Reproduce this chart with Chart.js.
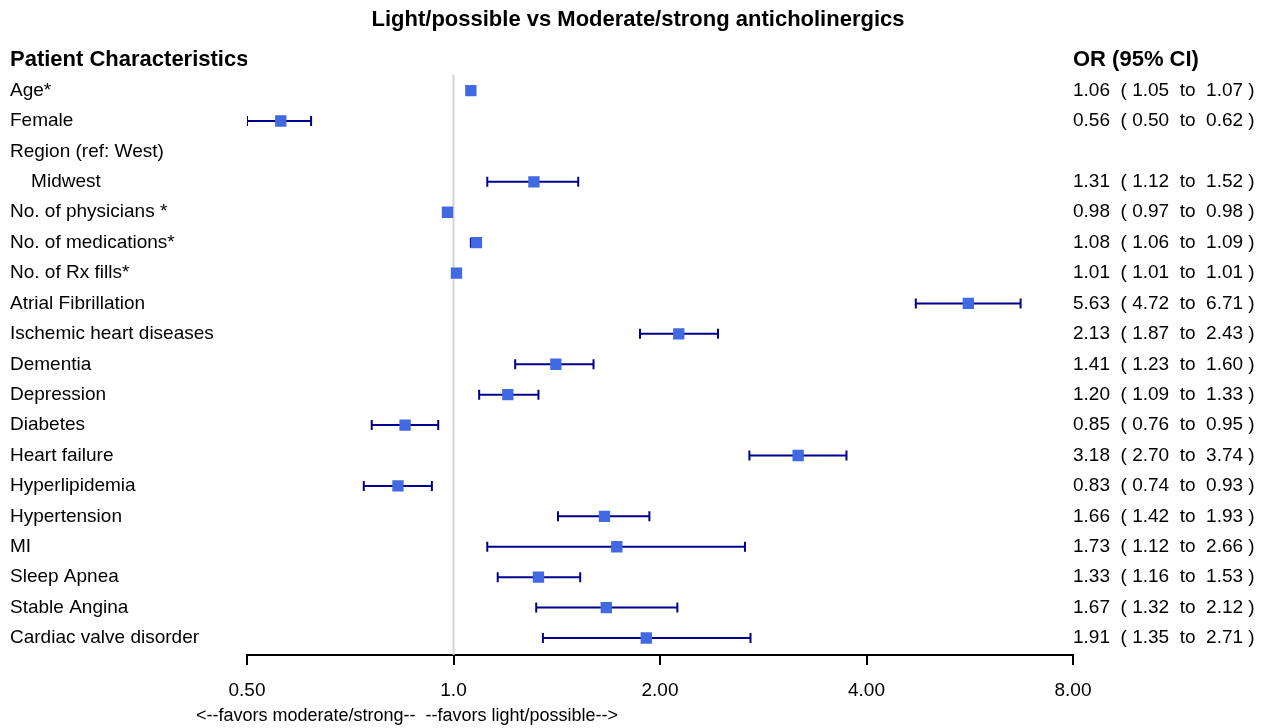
<!DOCTYPE html>
<html>
<head>
<meta charset="utf-8">
<script src="https://cdn.jsdelivr.net/npm/chart.js@4/dist/chart.umd.min.js"></script>
<style>
  body { margin: 0; background: #fff; }
  #wrap { width: 1266px; height: 728px; }
</style>
</head>
<body>
<div id="wrap"><canvas id="myChart"></canvas></div>
<script>
// rows, top to bottom
var labels = ["Age*", "Female", "Region (ref: West)", "    Midwest", "No. of physicians *",
    "No. of medications*", "No. of Rx fills*", "Atrial Fibrillation", "Ischemic heart diseases",
    "Dementia", "Depression", "Diabetes", "Heart failure", "Hyperlipidemia", "Hypertension",
    "MI", "Sleep Apnea", "Stable Angina", "Cardiac valve disorder"
];
var oddsRatio = [1.06, 0.56, null, 1.31, 0.98, 1.08, 1.01, 5.63, 2.13, 1.41, 1.20, 0.85, 3.18, 0.83, 1.66, 1.73, 1.33, 1.67, 1.91];
var ciLow = [1.05, 0.50, null, 1.12, 0.97, 1.06, 1.01, 4.72, 1.87, 1.23, 1.09, 0.76, 2.70, 0.74, 1.42, 1.12, 1.16, 1.32, 1.35];
var ciHigh = [1.07, 0.62, null, 1.52, 0.98, 1.09, 1.01, 6.71, 2.43, 1.60, 1.33, 0.95, 3.74, 0.93, 1.93, 2.66, 1.53, 2.12, 2.71];
var xTicks = [0.5, 1, 2, 4, 8];
var xTickLabels = ["0.50", "1.0", "2.00", "4.00", "8.00"];

var FONT = '"Liberation Sans", Arial, Helvetica, sans-serif';
Chart.defaults.font.family = FONT;
Chart.defaults.color = '#000';

var orText = oddsRatio.map(function(v, i) {
    if (v === null) return '';
    return v.toFixed(2) + '  ( ' + ciLow[i].toFixed(2) + '  to  ' + ciHigh[i].toFixed(2) + ' )';
});

var yMin = -1.65, yMax = 18.56;
var rowTicks = function(axis) {
    axis.ticks = [{ value: -1 }];
    labels.forEach(function(l, i) { axis.ticks.push({ value: i }) });
};
var headFont = function(c) {
    return c.tick && c.tick.value === -1 ? { size: 22, weight: 'bold' } : { size: 19 };
};

var datasets = [];
// reference line at OR = 1
datasets.push({
    data: [{ x: 1, y: -0.53 }, { x: 1, y: yMax }],
    showLine: true, pointRadius: 0, borderColor: '#d3d3d3', borderWidth: 2, order: 3
});
// confidence intervals
labels.forEach(function(l, i) {
    if (oddsRatio[i] === null) return;
    datasets.push({
        data: [{ x: ciLow[i], y: i }, { x: ciHigh[i], y: i }],
        showLine: true, borderColor: '#00008B', borderWidth: 2,
        pointStyle: 'line', rotation: 90, pointRadius: 5,
        pointBorderColor: '#00008B', pointBorderWidth: 2, order: 2
    });
});
// point estimates
datasets.push({
    data: oddsRatio.map(function(v, i) { return v === null ? null : { x: v, y: i } }).filter(Boolean),
    pointStyle: 'rect', pointRadius: 8, backgroundColor: '#4169E1',
    borderColor: '#4169E1', borderWidth: 0, order: 1
});

var favorsText = {
    id: 'favorsText',
    afterDraw: function(chart) {
        var ctx = chart.ctx;
        var x1 = chart.scales.x.getPixelForValue(1);
        ctx.save();
        ctx.font = '18px ' + FONT;
        ctx.fillStyle = '#000';
        ctx.textBaseline = 'middle';
        ctx.textAlign = 'right';
        ctx.fillText('<--favors moderate/strong--', x1 - 38, 716);
        ctx.textAlign = 'left';
        ctx.fillText('--favors light/possible-->', x1 - 28, 716);
        ctx.restore();
    }
};

var ctx = document.getElementById('myChart').getContext('2d');
var myChart = new Chart(ctx, {
    type: 'scatter',
    data: { datasets: datasets },
    plugins: [favorsText],
    options: {
        responsive: true,
        maintainAspectRatio: false,
        animation: false,
        layout: { padding: { left: 10, right: 0, top: 0, bottom: 0 } },
        plugins: {
            legend: { display: false },
            tooltip: { enabled: false },
            title: {
                display: true,
                text: 'Light/possible vs Moderate/strong anticholinergics',
                font: { size: 22, weight: 'bold' },
                padding: { top: 7, bottom: 7 }
            }
        },
        scales: {
            x: {
                type: 'logarithmic',
                min: 0.5, max: 8,
                afterBuildTicks: function(axis) {
                    axis.ticks = xTicks.map(function(v) { return { value: v } });
                },
                afterFit: function(s) { s.height = 73; },
                ticks: {
                    autoSkip: false, maxRotation: 0, padding: 14,
                    font: { size: 19 },
                    callback: function(v) { return xTickLabels[xTicks.indexOf(v)]; }
                },
                grid: { drawOnChartArea: false, drawTicks: true, tickLength: 10, color: '#000', lineWidth: 2 },
                border: { color: '#000', width: 2 }
            },
            y: {
                type: 'linear', position: 'left', reverse: true,
                min: yMin, max: yMax,
                afterBuildTicks: rowTicks,
                afterFit: function(s) { s.width = 237; },
                ticks: {
                    autoSkip: false, crossAlign: 'far', padding: 0,
                    font: headFont,
                    callback: function(v) { return v === -1 ? 'Patient Characteristics' : labels[v]; }
                },
                grid: { display: false, drawTicks: false },
                border: { display: false }
            },
            y2: {
                type: 'linear', position: 'right', reverse: true,
                min: yMin, max: yMax,
                afterBuildTicks: rowTicks,
                afterFit: function(s) { s.width = 193; },
                ticks: {
                    autoSkip: false, crossAlign: 'near', padding: 0,
                    font: headFont,
                    callback: function(v) { return v === -1 ? 'OR (95% CI)' : orText[v]; }
                },
                grid: { display: false, drawTicks: false },
                border: { display: false }
            }
        }
    }
});
</script>
</body>
</html>
